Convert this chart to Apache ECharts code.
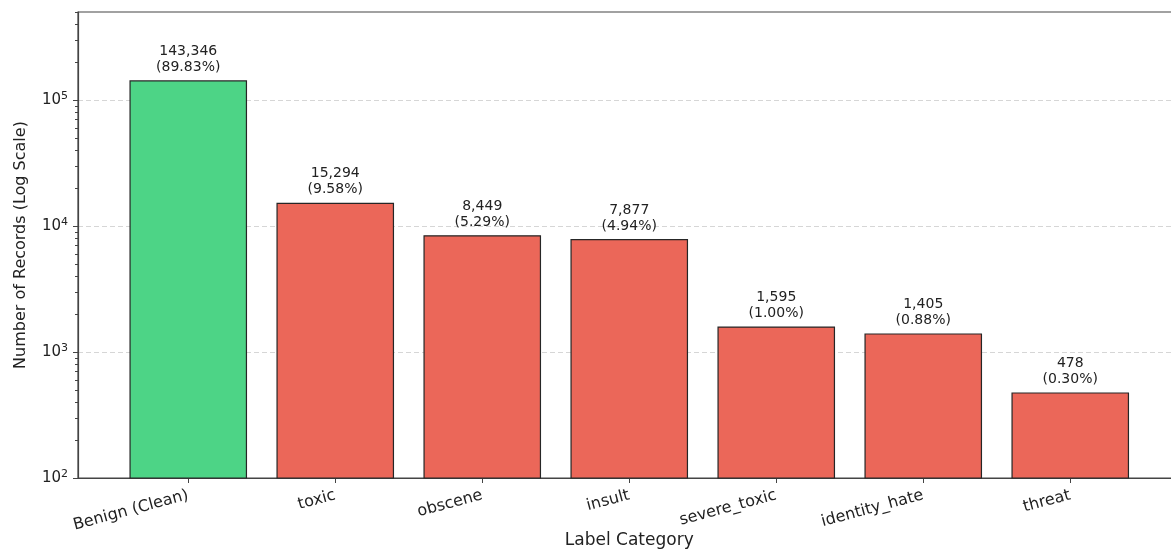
<!DOCTYPE html>
<html>
<head>
<meta charset="utf-8">
<script src="https://cdn.jsdelivr.net/npm/echarts@6/dist/echarts.min.js"></script>
<style>
  html, body { margin: 0; padding: 0; background: #fff; }
  #chart { width: 1171px; height: 550px; }
</style>
</head>
<body>
<div id="chart"></div>
<script>
// data
const categories = ['Benign (Clean)', 'toxic', 'obscene', 'insult', 'severe_toxic', 'identity_hate', 'threat']
const counts = [143346, 15294, 8449, 7877, 1595, 1405, 478]
const percents = ['89.83%', '9.58%', '5.29%', '4.94%', '1.00%', '0.88%', '0.30%']
const yMajorTicks = [100, 1000, 10000, 100000]
const yMinorTicks = [200, 300, 400, 500, 600, 700, 800, 900,
  2000, 3000, 4000, 5000, 6000, 7000, 8000, 9000,
  20000, 30000, 40000, 50000, 60000, 70000, 80000, 90000,
  200000, 300000, 400000, 500000]

const green = '#4dd486'
const red = '#eb6759'
const font = '"DejaVu Sans", "Noto Sans", sans-serif'

let chart = echarts.init(document.getElementById('chart'))

chart.setOption({
  animation: false,
  textStyle: { fontFamily: font },
  grid: {
    left: 78,
    top: 12,
    width: 1102.5,
    height: 466,
    outerBoundsMode: 'none',
    containLabel: false,
    show: true,
    borderColor: '#444',
    borderWidth: 1.2,
  },
  xAxis: {
    type: 'value',
    min: -0.75,
    max: 6.75,
    name: 'Label Category',
    nameLocation: 'middle',
    nameGap: 54,
    nameMoveOverlap: false,
    nameTextStyle: { color: '#222', fontSize: 17, fontFamily: font },
    axisLine: { show: true, onZero: false, lineStyle: { color: '#444', width: 1.2 } },
    axisTick: { show: true, customValues: categories.map((c, i) => i), length: 5, lineStyle: { color: '#444' } },
    axisLabel: {
      customValues: categories.map((c, i) => i),
      formatter: (v) => categories[Math.round(v)],
      rotate: 15,
      margin: 17,
      color: '#222',
      fontSize: 16,
    },
    splitLine: { show: false },
  },
  yAxis: [
    {
      type: 'log',
      logBase: 10,
      min: 100,
      max: 500000,
      name: 'Number of Records (Log Scale)',
      nameLocation: 'middle',
      nameGap: 49,
      nameMoveOverlap: false,
      nameTextStyle: { color: '#222', fontSize: 16, fontFamily: font },
      axisLine: { show: true, onZero: false, lineStyle: { color: '#444', width: 1.2 } },
      axisTick: { show: true, customValues: yMajorTicks, length: 5, lineStyle: { color: '#444' } },
      axisLabel: {
        customValues: yMajorTicks,
        formatter: (v) => {
          let e = Math.round(Math.log10(v))
          return '{b|10}{s|' + e + '}'
        },
        rich: {
          b: { fontSize: 15, color: '#222', fontFamily: font },
          s: { fontSize: 11, color: '#222', fontFamily: font, padding: [0, 0, 8, 0] },
        },
        margin: 10,
      },
      splitLine: { show: true, lineStyle: { color: '#d6d6d6', type: [5, 3], width: 1 } },
    },
    {
      type: 'log',
      logBase: 10,
      min: 100,
      max: 500000,
      position: 'left',
      axisLine: { show: false, onZero: false },
      axisTick: { show: true, customValues: yMinorTicks, length: 3, lineStyle: { color: '#444' } },
      axisLabel: { show: false },
      splitLine: { show: false },
    },
  ],
  series: [
    {
      type: 'bar',
      yAxisIndex: 0,
      barWidth: 117.6,
      data: counts.map((v, i) => ({
        value: [i, v],
        itemStyle: { color: i === 0 ? green : red },
      })),
      itemStyle: { borderColor: '#262626', borderWidth: 1.2 },
      label: {
        show: true,
        position: 'top',
        distance: 5,
        color: '#222',
        fontSize: 14,
        lineHeight: 16,
        fontFamily: font,
        formatter: (p) => counts[p.dataIndex].toLocaleString('en-US') + '\n(' + percents[p.dataIndex] + ')',
      },
    },
  ],
})
</script>
</body>
</html>
